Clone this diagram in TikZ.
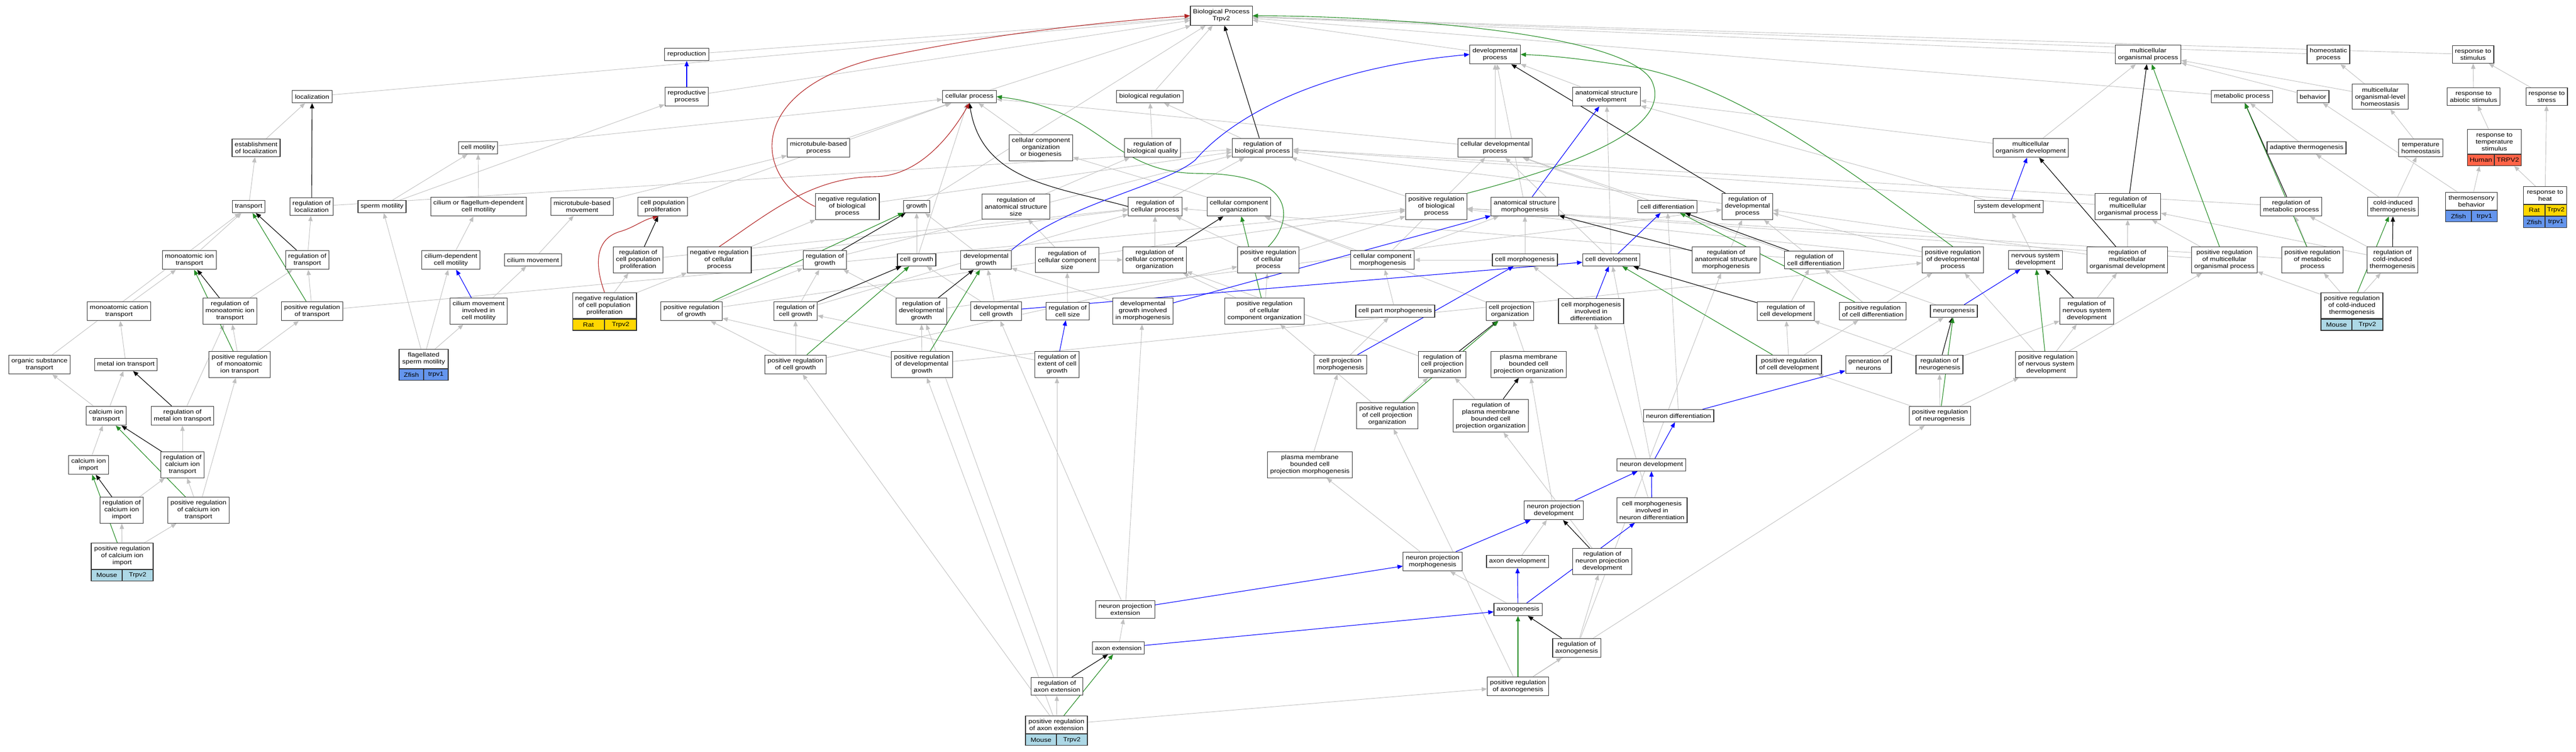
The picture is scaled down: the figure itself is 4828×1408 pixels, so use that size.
\documentclass[tikz,border=0pt]{standalone}
\usepackage{fontspec}
\newfontfamily\termfont[FakeStretch=1.15]{Liberation Sans}
\usetikzlibrary{arrows.meta}
\definecolor{edgegray}{RGB}{192,192,192}
\definecolor{posgreen}{RGB}{34,139,34}
\definecolor{negred}{RGB}{178,34,34}
\definecolor{partblue}{RGB}{0,0,255}
\definecolor{mouse}{RGB}{173,216,230}
\definecolor{rat}{RGB}{255,215,0}
\definecolor{zfish}{RGB}{100,149,237}
\definecolor{human}{RGB}{255,99,71}
\pgfdeclarelayer{back}
\pgfdeclarelayer{edges}
\pgfsetlayers{back,edges,main}
\tikzset{
    term/.style={draw=black!80, line width=1.2pt, fill=white, align=center, inner xsep=5pt, inner ysep=6pt, minimum height=23pt, font=\termfont\fontsize{11.3}{13}\selectfont},
    gene/.style={draw=black!80, line width=1.2pt, inner sep=0pt, minimum height=21pt, font=\termfont\fontsize{11.3}{13}\selectfont},
    isa/.style={->, >={Stealth[length=10pt, width=8pt, inset=0pt]}, draw=edgegray, line width=0.9pt},
    regul/.style={isa, draw=black, line width=1.1pt},
    posreg/.style={isa, draw=posgreen, line width=1.1pt},
    negreg/.style={isa, draw=negred, line width=1.1pt},
    partof/.style={isa, draw=partblue, line width=1.1pt}
}
\begin{document}
\begin{tikzpicture}[x=1pt, y=-1pt]
    \useasboundingbox (0,0) rectangle (4828,1408);
    \begin{pgfonlayer}{back}
    \fill [white] (0,0) rectangle (4828,1408);
    \end{pgfonlayer}
    % root and top rows
    \node [term] (bp) at (2289,29.5) {Biological Process\\Trpv2};
    \node [term] (reprod) at (1287,102) {reproduction};
    \node [term] (devproc) at (2802,102) {developmental\\process};
    \node [term] (multiorgproc) at (4026,102) {multicellular\\organismal process};
    \node [term] (homeostatic) at (4364,102) {homeostatic\\process};
    \node [term] (respstim) at (4635,102) {response to\\stimulus};
    \node [term] (loc) at (585,181) {localization};
    \node [term] (reprodproc) at (1287,181) {reproductive\\process};
    \node [term] (cellproc) at (1817,181) {cellular process};
    \node [term] (bioreg) at (2155,181) {biological regulation};
    \node [term] (anatdev) at (3011,181) {anatomical structure\\development};
    \node [term] (metabolic) at (4202,181) {metabolic process};
    \node [term] (behavior) at (4335,181) {behavior};
    \node [term] (multiorghomeo) at (4461,181) {multicellular\\organismal-level\\homeostasis};
    \node [term] (respabiotic) at (4636,181) {response to\\abiotic stimulus};
    \node [term] (respstress) at (4773,181) {response to\\stress};
    \node [term] (estloc) at (480,277) {establishment\\of localization};
    \node [term] (cellmot) at (896,277) {cell motility};
    \node [term] (mtproc) at (1534,277) {microtubule-based\\process};
    \node [term] (ccob) at (1951,277) {cellular component\\organization\\or biogenesis};
    \node [term] (regbioqual) at (2160,277) {regulation of\\biological quality};
    \node [term] (regbioproc) at (2366,277) {regulation of\\biological process};
    \node [term] (celldevproc) at (2802,277) {cellular developmental\\process};
    \node [term] (multiorgdev) at (3806,277) {multicellular\\organism development};
    \node [term] (adaptthermo) at (4323,277) {adaptive thermogenesis};
    \node [term] (temphomeo) at (4537,277) {temperature\\homeostasis};
    \node [term, minimum width=101pt] (resptemp) at (4675,265.5) {response to\\temperature\\stimulus};
    \node [gene, fill=human, minimum width=50.5pt, anchor=north west] (resptempA) at (resptemp.south west) {Human};
    \node [gene, fill=human, minimum width=50.5pt, anchor=north east] (resptempB) at (resptemp.south east) {TRPV2};
    % row 387
    \node [term] (transp) at (466,387) {transport};
    \node [term] (regloc) at (584,387) {regulation of\\localization};
    \node [term] (spermmot) at (716,387) {sperm motility};
    \node [term] (ciliumflag) at (897,387) {cilium or flagellum-dependent\\cell motility};
    \node [term] (mtmove) at (1091,387) {microtubule-based\\movement};
    \node [term] (cellpop) at (1242,387) {cell population\\proliferation};
    \node [term] (negregbio) at (1588,387) {negative regulation\\of biological\\process};
    \node [term] (growth) at (1718,387) {growth};
    \node [term] (reganatsize) at (1904,387) {regulation of\\anatomical structure\\size};
    \node [term] (regcellproc) at (2165,387) {regulation of\\cellular process};
    \node [term] (ccorg) at (2322,387) {cellular component\\organization};
    \node [term] (posregbio) at (2692,387) {positive regulation\\of biological\\process};
    \node [term] (anatmorph) at (2858,387) {anatomical structure\\morphogenesis};
    \node [term] (celldiff) at (3125,387) {cell differentiation};
    \node [term] (regdevproc) at (3275,387) {regulation of\\developmental\\process};
    \node [term] (sysdev) at (3765,387) {system development};
    \node [term] (regmultiorgproc) at (3988,387) {regulation of\\multicellular\\organismal process};
    \node [term] (regmetab) at (4294,387) {regulation of\\metabolic process};
    \node [term] (coldthermo) at (4485,387) {cold-induced\\thermogenesis};
    \node [term, minimum width=97pt] (thermosens) at (4632,377) {thermosensory\\behavior};
    \node [gene, fill=zfish, minimum width=48.5pt, anchor=north west] (thermosensA) at (thermosens.south west) {Zfish};
    \node [gene, fill=zfish, minimum width=48.5pt, anchor=north east] (thermosensB) at (thermosens.south east) {trpv1};
    \node [term, minimum width=81pt] (respheat) at (4770,366) {response to\\heat};
    \node [gene, fill=rat, minimum width=40.5pt, anchor=north west] (respheatA) at (respheat.south west) {Rat};
    \node [gene, fill=rat, minimum width=40.5pt, anchor=north east] (respheatB) at (respheat.south east) {Trpv2};
    \node [gene, fill=zfish, minimum width=40.5pt, anchor=north west] (respheatC) at (respheatA.south west) {Zfish};
    \node [gene, fill=zfish, minimum width=40.5pt, anchor=north east] (respheatD) at (respheatB.south east) {trpv1};
    % row 487
    \node [term] (monoion) at (355,487) {monoatomic ion\\transport};
    \node [term] (regtransp) at (576,487) {regulation of\\transport};
    \node [term] (ciliumdep) at (845,487) {cilium-dependent\\cell motility};
    \node [term] (ciliummove) at (999,487) {cilium movement};
    \node [term] (regcellpop) at (1196,487) {regulation of\\cell population\\proliferation};
    \node [term] (negregcell) at (1348,487) {negative regulation\\of cellular\\process};
    \node [term] (reggrowth) at (1546,487) {regulation of\\growth};
    \node [term] (cellgrowth) at (1718,487) {cell growth};
    \node [term] (devgrowth) at (1848,487) {developmental\\growth};
    \node [term] (regccsize) at (2000,487) {regulation of\\cellular component\\size};
    \node [term] (regccorg) at (2164,487) {regulation of\\cellular component\\organization};
    \node [term] (posregcellproc) at (2377,487) {positive regulation\\of cellular\\process};
    \node [term] (ccmorph) at (2591,487) {cellular component\\morphogenesis};
    \node [term] (cellmorph) at (2858,487) {cell morphogenesis};
    \node [term] (celldev) at (3020,487) {cell development};
    \node [term] (reganatmorph) at (3235,487) {regulation of\\anatomical structure\\morphogenesis};
    \node [term] (regcelldiff) at (3400,487) {regulation of\\cell differentiation};
    \node [term] (posregdevproc) at (3660,487) {positive regulation\\of developmental\\process};
    \node [term] (nsdev) at (3815,487) {nervous system\\development};
    \node [term] (regmultiorgdev) at (3987,487) {regulation of\\multicellular\\organismal development};
    \node [term] (posregmultiorgproc) at (4169,487) {positive regulation\\of multicellular\\organismal process};
    \node [term] (posregmetab) at (4334,487) {positive regulation\\of metabolic\\process};
    \node [term] (regcoldthermo) at (4484,487) {regulation of\\cold-induced\\thermogenesis};
    % row 583
    \node [term] (monocat) at (223,583) {monoatomic cation\\transport};
    \node [term] (regmonoion) at (431,583) {regulation of\\monoatomic ion\\transport};
    \node [term] (posregtransp) at (585,583) {positive regulation\\of transport};
    \node [term] (ciliummotinv) at (897,583) {cilium movement\\involved in\\cell motility};
    \node [term, minimum width=119pt] (negregcellpop) at (1133,572.5) {negative regulation\\of cell population\\proliferation};
    \node [gene, fill=rat, minimum width=59.5pt, anchor=north west] (negregcellpopA) at (negregcellpop.south west) {Rat};
    \node [gene, fill=rat, minimum width=59.5pt, anchor=north east] (negregcellpopB) at (negregcellpop.south east) {Trpv2};
    \node [term] (posreggrowth) at (1296,583) {positive regulation\\of growth};
    \node [term] (regcellgrowth) at (1491,583) {regulation of\\cell growth};
    \node [term] (regdevgrowth) at (1727,583) {regulation of\\developmental\\growth};
    \node [term] (devcellgrowth) at (1867,583) {developmental\\cell growth};
    \node [term] (regcellsize) at (2001,583) {regulation of\\cell size};
    \node [term] (devgrowthmorph) at (2142,583) {developmental\\growth involved\\in morphogenesis};
    \node [term] (posregccorg) at (2370,583) {positive regulation\\of cellular\\component organization};
    \node [term] (cellpartmorph) at (2615,583) {cell part morphogenesis};
    \node [term] (cellprojorg) at (2830,583) {cell projection\\organization};
    \node [term] (cellmorphdiff) at (2982,583) {cell morphogenesis\\involved in\\differentiation};
    \node [term] (regcelldev) at (3347,583) {regulation of\\cell development};
    \node [term] (posregcelldiff) at (3510,583) {positive regulation\\of cell differentiation};
    \node [term] (neurogenesis) at (3662,583) {neurogenesis};
    \node [term] (regnsdev) at (3911,583) {regulation of\\nervous system\\development};
    \node [term, minimum width=116pt] (posregcoldthermo) at (4408,572.5) {positive regulation\\of cold-induced\\thermogenesis};
    \node [gene, fill=mouse, minimum width=58pt, anchor=north west] (posregcoldthermoA) at (posregcoldthermo.south west) {Mouse};
    \node [gene, fill=mouse, minimum width=58pt, anchor=north east] (posregcoldthermoB) at (posregcoldthermo.south east) {Trpv2};
    % row 683
    \node [term] (orgsub) at (74,683) {organic substance\\transport};
    \node [term] (metalion) at (236,683) {metal ion transport};
    \node [term] (posregmonoion) at (449,683) {positive regulation\\of monoatomic\\ion transport};
    \node [term, minimum width=92pt] (flagsperm) at (794,672.5) {flagellated\\sperm motility};
    \node [gene, fill=zfish, minimum width=46pt, anchor=north west] (flagspermA) at (flagsperm.south west) {Zfish};
    \node [gene, fill=zfish, minimum width=46pt, anchor=north east] (flagspermB) at (flagsperm.south east) {trpv1};
    \node [term] (posregcellgrowth) at (1491,683) {positive regulation\\of cell growth};
    \node [term] (posregdevgrowth) at (1728,683) {positive regulation\\of developmental\\growth};
    \node [term] (regextcell) at (1981,683) {regulation of\\extent of cell\\growth};
    \node [term] (cellprojmorph) at (2512,683) {cell projection\\morphogenesis};
    \node [term] (regcellprojorg) at (2703,683) {regulation of\\cell projection\\organization};
    \node [term] (pmbcpo) at (2865,683) {plasma membrane\\bounded cell\\projection organization};
    \node [term] (posregcelldev) at (3353,683) {positive regulation\\of cell development};
    \node [term] (genneurons) at (3502,683) {generation of\\neurons};
    \node [term] (regneurogenesis) at (3635,683) {regulation of\\neurogenesis};
    \node [term] (posregnsdev) at (3835,683) {positive regulation\\of nervous system\\development};
    % lower rows
    \node [term] (caion) at (199,779) {calcium ion\\transport};
    \node [term] (regmetal) at (342,779) {regulation of\\metal ion transport};
    \node [term] (posregcellprojorg) at (2600,779) {positive regulation\\of cell projection\\organization};
    \node [term] (regpmbcpo) at (2794,779) {regulation of\\plasma membrane\\bounded cell\\projection organization};
    \node [term] (neurondiff) at (3146,779) {neuron differentiation};
    \node [term] (posregneurogenesis) at (3636,779) {positive regulation\\of neurogenesis};
    \node [term] (caimport) at (166,871) {calcium ion\\import};
    \node [term] (regcaion) at (342,871) {regulation of\\calcium ion\\transport};
    \node [term] (pmbcpm) at (2455,871) {plasma membrane\\bounded cell\\projection morphogenesis};
    \node [term] (neurondev) at (3095,871) {neuron development};
    \node [term] (regcaimport) at (228,956) {regulation of\\calcium ion\\import};
    \node [term] (posregcaion) at (372,956) {positive regulation\\of calcium ion\\transport};
    \node [term] (neuronprojdev) at (2912,956) {neuron projection\\development};
    \node [term] (cellmorphneuron) at (3096,956) {cell morphogenesis\\involved in\\neuron differentiation};
    \node [term, minimum width=116pt] (posregcaimport) at (229,1042) {positive regulation\\of calcium ion\\import};
    \node [gene, fill=mouse, minimum width=58pt, anchor=north west] (posregcaimportA) at (posregcaimport.south west) {Mouse};
    \node [gene, fill=mouse, minimum width=58pt, anchor=north east] (posregcaimportB) at (posregcaimport.south east) {Trpv2};
    \node [term] (neuronprojmorph) at (2685,1052) {neuron projection\\morphogenesis};
    \node [term] (axondev) at (2844,1052) {axon development};
    \node [term] (regneuronprojdev) at (3003,1052) {regulation of\\neuron projection\\development};
    \node [term] (neuronprojext) at (2109,1142) {neuron projection\\extension};
    \node [term] (axonogenesis) at (2845,1142) {axonogenesis};
    \node [term] (axonext) at (2096,1214) {axon extension};
    \node [term] (regaxonogenesis) at (2955,1214) {regulation of\\axonogenesis};
    \node [term] (regaxonext) at (1981,1286) {regulation of\\axon extension};
    \node [term] (posregaxonogenesis) at (2845,1286) {positive regulation\\of axonogenesis};
    \node [term, minimum width=116pt] (posregaxonext) at (1980,1358) {positive regulation\\of axon extension};
    \node [gene, fill=mouse, minimum width=58pt, anchor=north west] (posregaxonextA) at (posregaxonext.south west) {Mouse};
    \node [gene, fill=mouse, minimum width=58pt, anchor=north east] (posregaxonextB) at (posregaxonext.south east) {Trpv2};
    \begin{pgfonlayer}{edges}
    % is_a
    \draw [isa] (reprod) -- (bp);
    \draw [isa] (devproc) -- (bp);
    \draw [isa] (multiorgproc) -- (bp);
    \draw [isa] (homeostatic) -- (bp);
    \draw [isa] (respstim) -- (bp);
    \draw [isa] (loc) -- (bp);
    \draw [isa] (reprodproc) -- (bp);
    \draw [isa] (cellproc) -- (bp);
    \draw [isa] (bioreg) -- (bp);
    \draw [isa] (metabolic) -- (bp);
    \draw [isa] (growth) -- (bp);
    \draw [isa] (anatdev) -- (devproc);
    \draw [isa] (behavior) -- (multiorgproc);
    \draw [isa] (multiorghomeo) -- (homeostatic);
    \draw [isa] (multiorghomeo) -- (multiorgproc);
    \draw [isa] (respabiotic) -- (respstim);
    \draw [isa] (respstress) -- (respstim);
    \draw [isa] (estloc) -- (loc);
    \draw [isa] (cellmot) -- (cellproc);
    \draw [isa] (mtproc) -- (cellproc);
    \draw [isa] (ccob) -- (cellproc);
    \draw [isa] (regbioqual) -- (bioreg);
    \draw [isa] (regbioproc) -- (bioreg);
    \draw [isa] (celldevproc) -- (devproc);
    \draw [isa] (celldevproc) -- (cellproc);
    \draw [isa] (multiorgdev) -- (multiorgproc);
    \draw [isa] (multiorgdev) -- (anatdev);
    \draw [isa] (adaptthermo) -- (metabolic);
    \draw [isa] (temphomeo) -- (multiorghomeo);
    \draw [isa] (resptemp) -- (respabiotic);
    \draw [isa] (transp) -- (estloc);
    \draw [isa] (regloc) -- (regbioproc);
    \draw [isa] (spermmot) -- (reprodproc);
    \draw [isa] (spermmot) -- (cellmot);
    \draw [isa] (ciliumflag) -- (cellmot);
    \draw [isa] (mtmove) -- (mtproc);
    \draw [isa] (cellpop) -- (cellproc);
    \draw [isa] (negregbio) -- (regbioproc);
    \draw [isa] (reganatsize) -- (regbioqual);
    \draw [isa] (regcellproc) -- (regbioproc);
    \draw [isa] (ccorg) -- (ccob);
    \draw [isa] (posregbio) -- (regbioproc);
    \draw [isa] (anatmorph) -- (devproc);
    \draw [isa] (celldiff) -- (celldevproc);
    \draw [isa] (regdevproc) -- (regbioproc);
    \draw [isa] (sysdev) -- (anatdev);
    \draw [isa] (regmultiorgproc) -- (regbioproc);
    \draw [isa] (regmetab) -- (regbioproc);
    \draw [isa] (coldthermo) -- (adaptthermo);
    \draw [isa] (coldthermo) -- (temphomeo);
    \draw [isa] (thermosens) -- (resptempA);
    \draw [isa] (thermosens) -- (behavior);
    \draw [isa] (respheat) -- (resptempB);
    \draw [isa] (respheat) -- (respstress);
    \draw [isa] (monoion) -- (transp);
    \draw [isa] (regtransp) -- (regloc);
    \draw [isa] (ciliumdep) -- (ciliumflag);
    \draw [isa] (ciliummove) -- (mtmove);
    \draw [isa] (regcellpop) -- (regcellproc);
    \draw [isa] (negregcell) -- (negregbio);
    \draw [isa] (negregcell) -- (regcellproc);
    \draw [isa] (reggrowth) -- (regbioproc);
    \draw [isa] (cellgrowth) -- (growth);
    \draw [isa] (cellgrowth) -- (cellproc);
    \draw [isa] (devgrowth) -- (growth);
    \draw [isa] (regccsize) -- (reganatsize);
    \draw [isa] (regccsize) -- (regccorg);
    \draw [isa] (regccorg) -- (regcellproc);
    \draw [isa] (posregcellproc) -- (regcellproc);
    \draw [isa] (posregcellproc) -- (posregbio);
    \draw [isa] (ccmorph) -- (celldevproc);
    \draw [isa] (ccmorph) -- (anatmorph);
    \draw [isa] (ccmorph) -- (ccorg);
    \draw [isa] (cellmorph) -- (anatmorph);
    \draw [isa] (cellmorph) -- (ccmorph);
    \draw [isa] (celldev) -- (anatdev);
    \draw [isa] (celldev) -- (celldevproc);
    \draw [isa] (reganatmorph) -- (regdevproc);
    \draw [isa] (regcelldiff) -- (regdevproc);
    \draw [isa] (regcelldiff) -- (regcellproc);
    \draw [isa] (posregdevproc) -- (regdevproc);
    \draw [isa] (posregdevproc) -- (posregbio);
    \draw [isa] (nsdev) -- (sysdev);
    \draw [isa] (regmultiorgdev) -- (regmultiorgproc);
    \draw [isa] (regmultiorgdev) -- (regdevproc);
    \draw [isa] (posregmultiorgproc) -- (regmultiorgproc);
    \draw [isa] (posregmultiorgproc) -- (posregbio);
    \draw [isa] (posregmetab) -- (regmetab);
    \draw [isa] (posregmetab) -- (posregbio);
    \draw [isa] (regcoldthermo) -- (regmetab);
    \draw [isa] (regcoldthermo) -- (regmultiorgproc);
    \draw [isa] (monocat) -- (monoion);
    \draw [isa] (regmonoion) -- (regtransp);
    \draw [isa] (posregtransp) -- (regtransp);
    \draw [isa] (posregtransp) -- (posregbio);
    \draw [isa] (ciliummotinv) -- (ciliummove);
    \draw [isa] (negregcellpop) -- (regcellpop);
    \draw [isa] (negregcellpop) -- (negregcell);
    \draw [isa] (posreggrowth) -- (reggrowth);
    \draw [isa] (posreggrowth) -- (posregbio);
    \draw [isa] (regcellgrowth) -- (reggrowth);
    \draw [isa] (regcellgrowth) -- (regcellproc);
    \draw [isa] (regdevgrowth) -- (reggrowth);
    \draw [isa] (regdevgrowth) -- (regdevproc);
    \draw [isa] (devcellgrowth) -- (devgrowth);
    \draw [isa] (devcellgrowth) -- (cellgrowth);
    \draw [isa] (regcellsize) -- (regccsize);
    \draw [isa] (devgrowthmorph) -- (devgrowth);
    \draw [isa] (posregccorg) -- (regccorg);
    \draw [isa] (posregccorg) -- (posregcellproc);
    \draw [isa] (cellpartmorph) -- (ccmorph);
    \draw [isa] (cellprojorg) -- (ccorg);
    \draw [isa] (cellmorphdiff) -- (cellmorph);
    \draw [isa] (regcelldev) -- (regcelldiff);
    \draw [isa] (posregcelldiff) -- (regcelldiff);
    \draw [isa] (posregcelldiff) -- (posregdevproc);
    \draw [isa] (neurogenesis) -- (celldevproc);
    \draw [isa] (regnsdev) -- (regmultiorgdev);
    \draw [isa] (orgsub) -- (transp);
    \draw [isa] (metalion) -- (monocat);
    \draw [isa] (posregmonoion) -- (regmonoion);
    \draw [isa] (posregmonoion) -- (posregtransp);
    \draw [isa] (flagsperm) -- (spermmot);
    \draw [isa] (flagsperm) -- (ciliumdep);
    \draw [isa] (flagsperm) -- (ciliummotinv);
    \draw [isa] (posregcellgrowth) -- (regcellgrowth);
    \draw [isa] (posregcellgrowth) -- (posreggrowth);
    \draw [isa] (posregcellgrowth) -- (posregcellproc);
    \draw [isa] (posregdevgrowth) -- (regdevgrowth);
    \draw [isa] (posregdevgrowth) -- (posreggrowth);
    \draw [isa] (posregdevgrowth) -- (posregdevproc);
    \draw [isa] (regextcell) -- (regcellgrowth);
    \draw [isa] (cellprojmorph) -- (cellpartmorph);
    \draw [isa] (regcellprojorg) -- (regccorg);
    \draw [isa] (pmbcpo) -- (cellprojorg);
    \draw [isa] (posregcelldev) -- (regcelldev);
    \draw [isa] (posregcelldev) -- (posregcelldiff);
    \draw [isa] (genneurons) -- (neurogenesis);
    \draw [isa] (regneurogenesis) -- (regnsdev);
    \draw [isa] (regneurogenesis) -- (regcelldev);
    \draw [isa] (posregnsdev) -- (regnsdev);
    \draw [isa] (posregnsdev) -- (posregdevproc);
    \draw [isa] (posregnsdev) -- (posregmultiorgproc);
    \draw [isa] (caion) -- (metalion);
    \draw [isa] (caion) -- (orgsub);
    \draw [isa] (regmetal) -- (regmonoion);
    \draw [isa] (posregcellprojorg) -- (regcellprojorg);
    \draw [isa] (posregcellprojorg) -- (posregccorg);
    \draw [isa] (regpmbcpo) -- (regcellprojorg);
    \draw [isa] (neurondiff) -- (celldiff);
    \draw [isa] (posregneurogenesis) -- (regneurogenesis);
    \draw [isa] (posregneurogenesis) -- (posregnsdev);
    \draw [isa] (posregneurogenesis) -- (posregcelldev);
    \draw [isa] (caimport) -- (caion);
    \draw [isa] (regcaion) -- (regmetal);
    \draw [isa] (pmbcpm) -- (cellprojmorph);
    \draw [isa] (neurondev) -- (celldev);
    \draw [isa] (regcaimport) -- (regcaion);
    \draw [isa] (posregcaion) -- (regcaion);
    \draw [isa] (posregcaion) -- (posregmonoion);
    \draw [isa] (neuronprojdev) -- (pmbcpo);
    \draw [isa] (cellmorphneuron) -- (cellmorphdiff);
    \draw [isa] (posregcaimport) -- (regcaimport);
    \draw [isa] (posregcaimport) -- (posregcaion);
    \draw [isa] (neuronprojmorph) -- (pmbcpm);
    \draw [isa] (axondev) -- (neuronprojdev);
    \draw [isa] (regneuronprojdev) -- (regpmbcpo);
    \draw [isa] (neuronprojext) -- (devgrowthmorph);
    \draw [isa] (neuronprojext) -- (devcellgrowth);
    \draw [isa] (axonogenesis) -- (neuronprojmorph);
    \draw [isa] (axonext) -- (neuronprojext);
    \draw [isa] (regaxonogenesis) -- (regneuronprojdev);
    \draw [isa] (regaxonogenesis) -- (reganatmorph);
    \draw [isa] (regaxonext) -- (regextcell);
    \draw [isa] (regaxonext) -- (regdevgrowth);
    \draw [isa] (posregaxonogenesis) -- (regaxonogenesis);
    \draw [isa] (posregaxonogenesis) -- (posregcellprojorg);
    \draw [isa] (posregaxonogenesis) -- (posregneurogenesis);
    \draw [isa] (posregaxonext) -- (regaxonext);
    \draw [isa] (posregaxonext) -- (posregaxonogenesis);
    \draw [isa] (posregaxonext) -- (posregdevgrowth);
    \draw [isa] (posregaxonext) -- (posregcellgrowth);
    \draw [isa] (posregcoldthermo) -- (regcoldthermo);
    \draw [isa] (posregcoldthermo) -- (posregmetab);
    \draw [isa] (posregcoldthermo) -- (posregmultiorgproc);
    % regulates
    \draw [regul] (regbioproc) -- (bp);
    \draw [regul] (regloc) -- (loc);
    \draw [regul] (regtransp) -- (transp);
    \draw [regul] (regmonoion) -- (monoion);
    \draw [regul] (regmetal) -- (metalion);
    \draw [regul] (regcaion) -- (caion);
    \draw [regul] (regcaimport) -- (caimport);
    \draw [regul] (regcellpop) -- (cellpop);
    \draw [regul] (regcellproc.west) .. controls (1980,350) and (1840,340) .. (cellproc.south);
    \draw [regul] (reggrowth) -- (growth);
    \draw [regul] (regcellgrowth) -- (cellgrowth);
    \draw [regul] (regdevgrowth) -- (devgrowth);
    \draw [regul] (regccorg) -- (ccorg);
    \draw [regul] (reganatmorph) -- (anatmorph);
    \draw [regul] (regcelldiff) -- (celldiff);
    \draw [regul] (regcelldev) -- (celldev);
    \draw [regul] (regdevproc) -- (devproc);
    \draw [regul] (regmultiorgproc) -- (multiorgproc);
    \draw [regul] (regmultiorgdev) -- (multiorgdev);
    \draw [regul] (regnsdev) -- (nsdev);
    \draw [regul] (regneurogenesis) -- (neurogenesis);
    \draw [regul] (regmetab) -- (metabolic);
    \draw [regul] (regcoldthermo) -- (coldthermo);
    \draw [regul] (regcellprojorg) -- (cellprojorg);
    \draw [regul] (regpmbcpo) -- (pmbcpo);
    \draw [regul] (regneuronprojdev) -- (neuronprojdev);
    \draw [regul] (regaxonogenesis) -- (axonogenesis);
    \draw [regul] (regaxonext) -- (axonext);
    % positively regulates
    \draw [posreg] (posregbio.north east) .. controls (2950,310) and (3140,240) .. (3095,150) .. controls (3040,60) and (2600,30) .. (bp.east);
    \draw [posreg] (posregtransp) -- (transp);
    \draw [posreg] (posregmonoion) -- (monoion);
    \draw [posreg] (posregcaion) -- (caion);
    \draw [posreg] (posregcaimport) -- (caimport);
    \draw [posreg] (posregcellproc.north) .. controls (2420,420) and (2440,326) .. (2250,325) .. controls (2080,326) and (2070,205) .. (cellproc.east);
    \draw [posreg] (posreggrowth) -- (growth);
    \draw [posreg] (posregcellgrowth) -- (cellgrowth);
    \draw [posreg] (posregdevgrowth) -- (devgrowth);
    \draw [posreg] (posregccorg) -- (ccorg);
    \draw [posreg] (posregdevproc.north) .. controls (3480,330) and (3260,160) .. (3060,125) .. controls (2950,108) and (2900,104) .. (devproc.east);
    \draw [posreg] (posregcelldiff) -- (celldiff);
    \draw [posreg] (posregcelldev) -- (celldev);
    \draw [posreg] (posregnsdev) -- (nsdev);
    \draw [posreg] (posregneurogenesis) -- (neurogenesis);
    \draw [posreg] (posregmultiorgproc) -- (multiorgproc);
    \draw [posreg] (posregmetab) -- (metabolic);
    \draw [posreg] (posregcoldthermo) -- (coldthermo);
    \draw [posreg] (posregcellprojorg) -- (cellprojorg);
    \draw [posreg] (posregaxonogenesis) -- (axonogenesis);
    \draw [posreg] (posregaxonext) -- (axonext);
    % negatively regulates
    \draw [negreg] (negregbio.west) .. controls (1410,330) and (1400,170) .. (1640,110) .. controls (1850,65) and (2050,42) .. (bp.west);
    \draw [negreg] (negregcell.north) .. controls (1440,400) and (1520,332) .. (1640,331) .. controls (1730,330) and (1790,240) .. (cellproc.south);
    \draw [negreg] (negregcellpop.north) .. controls (1112,490) and (1118,445) .. (1165,433) .. controls (1190,425) and (1205,412) .. (cellpop.-115);
    % part_of
    \draw [partof] (reprodproc) -- (reprod);
    \draw [partof] (ciliummotinv) -- (ciliumdep);
    \draw [partof] (devgrowth.north east) .. controls (2000,380) and (2180,350) .. (2240,300) .. controls (2300,230) and (2450,130) .. (devproc.west);
    \draw [partof] (regextcell) -- (regcellsize);
    \draw [partof] (devcellgrowth) -- (celldev);
    \draw [partof] (devgrowthmorph) -- (anatmorph);
    \draw [partof] (anatmorph) -- (anatdev);
    \draw [partof] (celldev) -- (celldiff);
    \draw [partof] (cellmorphdiff) -- (celldev);
    \draw [partof] (cellprojmorph) -- (cellmorph);
    \draw [partof] (sysdev) -- (multiorgdev);
    \draw [partof] (neurogenesis) -- (nsdev);
    \draw [partof] (neurondiff) -- (genneurons);
    \draw [partof] (neurondev) -- (neurondiff);
    \draw [partof] (neuronprojdev) -- (neurondev);
    \draw [partof] (cellmorphneuron) -- (neurondev);
    \draw [partof] (neuronprojmorph) -- (neuronprojdev);
    \draw [partof] (axonogenesis) -- (axondev);
    \draw [partof] (axonogenesis) -- (cellmorphneuron);
    \draw [partof] (neuronprojext) -- (neuronprojmorph);
    \draw [partof] (axonext) -- (axonogenesis);
    \end{pgfonlayer}
\end{tikzpicture}
\end{document}
